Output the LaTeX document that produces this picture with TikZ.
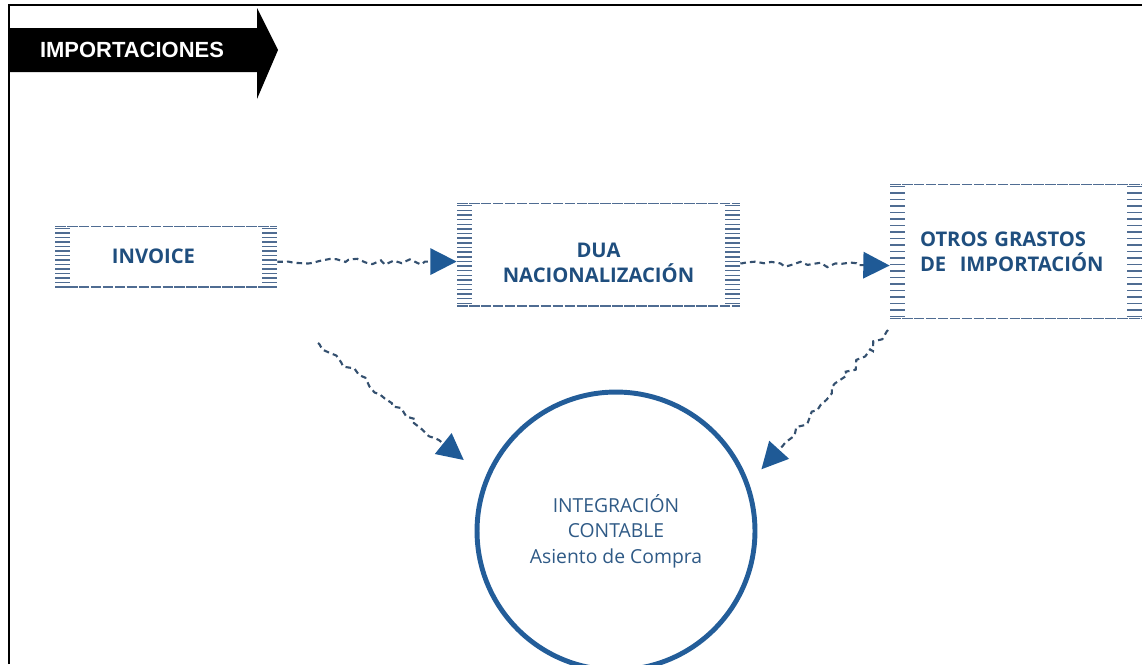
\documentclass[tikz,border=0pt]{standalone}
\usepackage{fontspec}
\setmainfont{Open Sans}
\newfontfamily\bannerfont{Liberation Sans}
\usetikzlibrary{arrows.meta,calc,decorations.pathmorphing}
\definecolor{boxtext}{HTML}{1F4E7E}
\definecolor{hatchc}{HTML}{4F6C92}
\definecolor{flowc}{HTML}{34506F}
\definecolor{headc}{HTML}{1F5A96}
\definecolor{circc}{HTML}{235D99}
\definecolor{circtext}{HTML}{2F5A86}

\begin{document}
\begin{tikzpicture}[x=0.02cm,y=-0.02cm,
        hatchbox/.style 2 args={minimum width=#1, inner sep=0pt, font=\bfseries\fontsize{11.5}{14}\selectfont, text=boxtext, align=center,
            path picture={
                \foreach \k in {0,...,45} {
                    \draw[hatchc, line width=0.8pt] ([yshift=-1.5pt-\k*#2]path picture bounding box.north west) -- ++(0.3cm,0);
                    \draw[hatchc, line width=0.8pt] ([yshift=-1.5pt-\k*#2]path picture bounding box.north east) -- ++(-0.3cm,0);
                }
                \draw[hatchc, line width=1.1pt, dash pattern=on 6pt off 0.8pt] (path picture bounding box.north west) -- (path picture bounding box.north east);
                \draw[hatchc, line width=1.1pt, dash pattern=on 6pt off 0.8pt] (path picture bounding box.south west) -- (path picture bounding box.south east);
            }},
        flow/.style={draw=flowc, line width=1.2pt, dash pattern=on 3.2pt off 2.3pt, decorate,
            decoration={random steps, segment length=4pt, amplitude=2pt, pre length=1pt, post length=18pt},
            -{Triangle[length=15pt,width=15pt,color=headc]}}]%
        \pgfmathsetseed{11}
        \useasboundingbox (0,0) rectangle (1142,664);
        % frame and banner
        \draw[line width=1.2pt] (9,664) -- (9,5) -- (1142,5);
        \fill (9,28) -- (257,28) -- (257,8) -- (278,50) -- (257,99) -- (257,72) -- (9,72) -- cycle;
        \node[text=white, font=\bannerfont\bfseries\fontsize{12.5}{14}\selectfont] (banner) at (132,50) {IMPORTACIONES};
        % boxes
        \node[hatchbox={4.44cm}{0.09cm}, minimum height=1.22cm] (inv) at (166,256.5) {INVOICE\hspace*{0.5cm}};
        \node[hatchbox={5.66cm}{0.093cm}, minimum height=2.06cm] (dua) at (598.5,254.5) {\rule{0pt}{18pt}DUA\\NACIONALIZACIÓN};
        \node[hatchbox={5.04cm}{0.13cm}, minimum height=2.7cm, text width=3.84cm, align=left] (otros) at (1016,251.5) {OTROS GRASTOS\\DE\ \ IMPORTACIÓN\\[8pt]};
        % circle
        \node[circle, draw=circc, line width=2.8pt, minimum size=5.56cm, text=circtext, align=center, font=\fontsize{11}{14.5}\selectfont] (circ) at (616,531) {INTEGRACIÓN\\CONTABLE\\Asiento de Compra};
        % connectors
        \coordinate (invout) at (318,343);
        \coordinate (otrosout) at (888,330);
        \draw[flow] ([yshift=-3pt]inv.east) -- ([yshift=-4pt]dua.west);
        \draw[flow] ([yshift=-5pt]dua.east) -- ([yshift=-8pt]otros.west);
        \draw[flow] (invout) -- ($(circ.center)+(155:3.36cm)$);
        \draw[flow] (otrosout) -- ($(circ.center)+(23:3.16cm)$);
    \end{tikzpicture}
\end{document}
